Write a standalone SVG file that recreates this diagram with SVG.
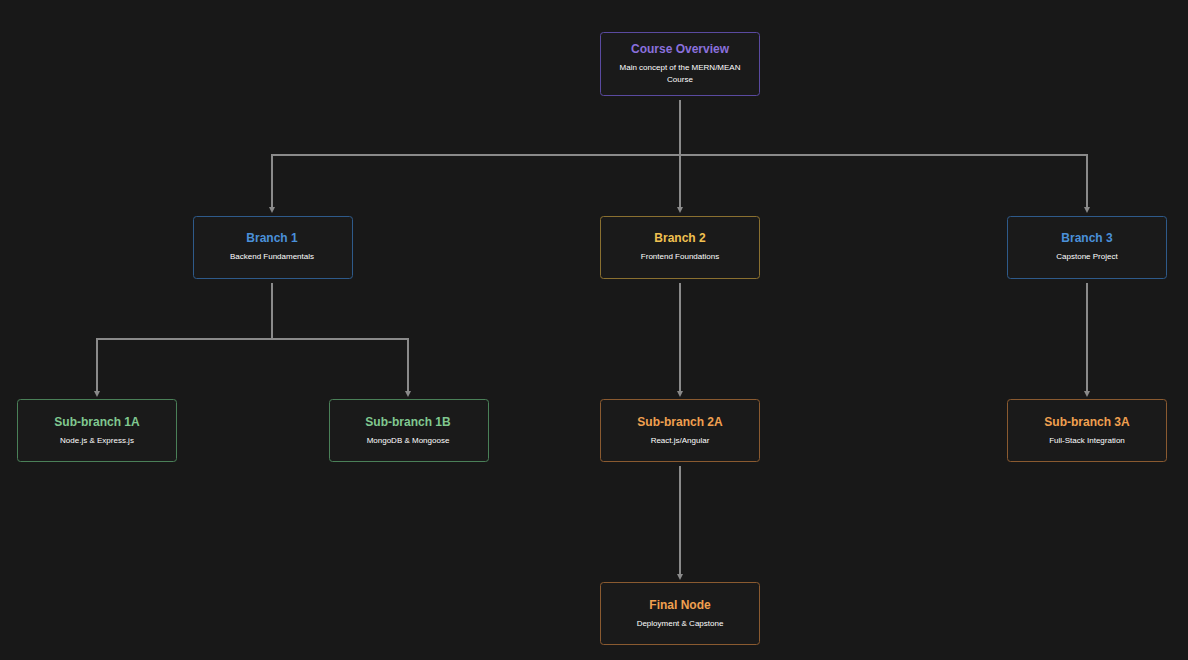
<svg xmlns="http://www.w3.org/2000/svg" width="1188" height="660" viewBox="0 0 1188 660">
<style>
.box{fill:#1a1a1a;stroke-width:1}
.t{font-family:"Liberation Sans",Arial,sans-serif;font-weight:bold;font-size:12px;text-anchor:middle}
.s{font-family:"Liberation Sans",Arial,sans-serif;font-size:8px;fill:#ffffff;text-anchor:middle}
.c{fill:none;stroke:#8a8a8a;stroke-width:2}
</style>
<defs><marker id="a" markerWidth="6" markerHeight="6" refX="3" refY="3" orient="auto" markerUnits="userSpaceOnUse"><path d="M0,0 L6,3 L0,6 z" fill="#8a8a8a"/></marker></defs>
<rect width="1188" height="660" fill="#181818"/>
<g id="connectors">
<path class="c" d="M680,100 V155 H272 V210" marker-end="url(#a)"/>
<path class="c" d="M680,155 V210" marker-end="url(#a)"/>
<path class="c" d="M680,155 H1087 V210" marker-end="url(#a)"/>
<path class="c" d="M272,283 V339 H97 V394" marker-end="url(#a)"/>
<path class="c" d="M272,339 H408 V394" marker-end="url(#a)"/>
<path class="c" d="M680,283 V394" marker-end="url(#a)"/>
<path class="c" d="M1087,283 V394" marker-end="url(#a)"/>
<path class="c" d="M680,466 V577" marker-end="url(#a)"/>
</g>
<g id="course"><rect class="box" x="600.5" y="32.5" width="159" height="63" rx="3" stroke="#5a4aa0"/><text class="t" x="680" y="53" fill="#8a70dc">Course Overview</text><text class="s" x="680" y="70">Main concept of the MERN/MEAN</text><text class="s" x="680" y="82">Course</text></g>
<g id="b1"><rect class="box" x="193.5" y="216.5" width="159" height="62" rx="3" stroke="#2e5a8a"/><text class="t" x="272" y="242" fill="#4a90d9">Branch 1</text><text class="s" x="272" y="259">Backend Fundamentals</text></g>
<g id="b2"><rect class="box" x="600.5" y="216.5" width="159" height="62" rx="3" stroke="#8a7030"/><text class="t" x="680" y="242" fill="#f0c050">Branch 2</text><text class="s" x="680" y="259">Frontend Foundations</text></g>
<g id="b3"><rect class="box" x="1007.5" y="216.5" width="159" height="62" rx="3" stroke="#2e5a8a"/><text class="t" x="1087" y="242" fill="#4a90d9">Branch 3</text><text class="s" x="1087" y="259">Capstone Project</text></g>
<g id="s1a"><rect class="box" x="17.5" y="399.5" width="159" height="62" rx="3" stroke="#4a8058"/><text class="t" x="97" y="426" fill="#80c890">Sub-branch 1A</text><text class="s" x="97" y="443">Node.js &amp; Express.js</text></g>
<g id="s1b"><rect class="box" x="329.5" y="399.5" width="159" height="62" rx="3" stroke="#4a8058"/><text class="t" x="408" y="426" fill="#80c890">Sub-branch 1B</text><text class="s" x="408" y="443">MongoDB &amp; Mongoose</text></g>
<g id="s2a"><rect class="box" x="600.5" y="399.5" width="159" height="62" rx="3" stroke="#8a5a30"/><text class="t" x="680" y="426" fill="#f0a050">Sub-branch 2A</text><text class="s" x="680" y="443">React.js/Angular</text></g>
<g id="s3a"><rect class="box" x="1007.5" y="399.5" width="159" height="62" rx="3" stroke="#8a5a30"/><text class="t" x="1087" y="426" fill="#f0a050">Sub-branch 3A</text><text class="s" x="1087" y="443">Full-Stack Integration</text></g>
<g id="final"><rect class="box" x="600.5" y="582.5" width="159" height="62" rx="3" stroke="#8a5a30"/><text class="t" x="680" y="609" fill="#f0a050">Final Node</text><text class="s" x="680" y="626">Deployment &amp; Capstone</text></g>
</svg>
